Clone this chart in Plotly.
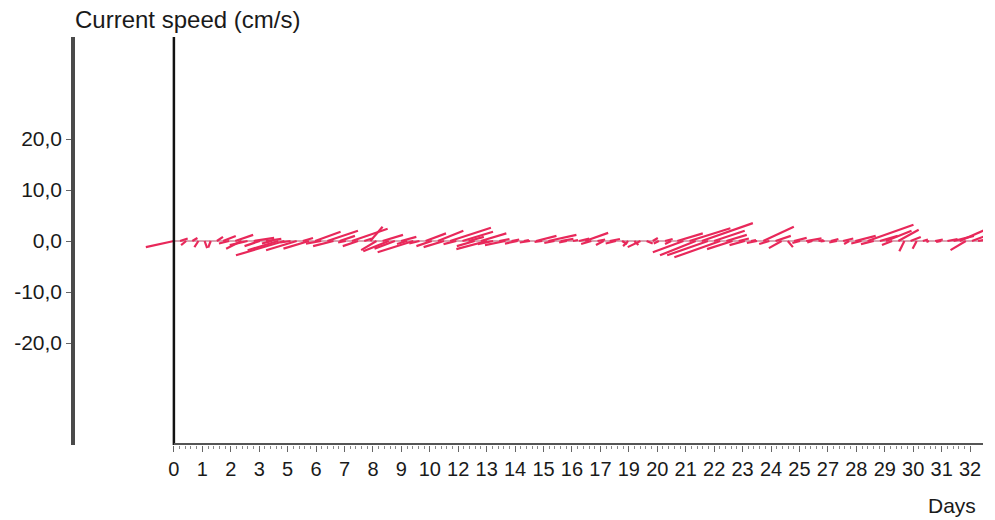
import plotly.graph_objects as go

# ---- data ----
tick_labels = ["0", "1", "2", "3", "5", "6", "7", "8", "9", "10", "12", "13", "14", "15",
               "16", "17", "19", "20", "21", "22", "23", "24", "25", "27", "28", "29",
               "30", "31", "32"]
y_ticks = [20, 10, 0, -10, -20]
y_tick_text = ["20,0", "10,0", "0,0", "-10,0", "-20,0"]

days = [0.0, 0.25, 0.5, 0.75, 1.0, 1.25, 1.5, 1.75, 2.0, 2.25, 2.5, 2.75,
        3.0, 3.25, 3.5, 3.75, 4.0, 4.25, 4.5, 4.75, 5.0, 5.25, 5.5, 5.75,
        6.0, 6.25, 6.5, 6.75, 7.0, 7.25, 7.5, 7.75, 8.0, 8.25, 8.5, 8.75,
        9.0, 9.25, 9.5, 9.75, 10.0, 10.25, 10.5, 10.75, 11.0, 11.25, 11.5, 11.75,
        12.0, 12.25, 12.5, 12.75, 13.0, 13.25, 13.5, 13.75, 14.0, 14.25, 14.5, 14.75,
        15.0, 15.25, 15.5, 15.75, 16.0, 16.25, 16.5, 16.75, 17.0, 17.25, 17.5, 17.75,
        18.0, 18.25, 18.5, 18.75, 19.0, 19.25, 19.5, 19.75, 20.0, 20.25, 20.5, 20.75,
        21.0, 21.25, 21.5, 21.75, 22.0, 22.25, 22.5, 22.75, 23.0, 23.25, 23.5, 23.75,
        24.0, 24.25, 24.5, 24.75, 25.0, 25.25, 25.5, 25.75, 26.0, 26.25, 26.5, 26.75,
        27.0, 27.25, 27.5, 27.75, 28.0, 28.25, 28.5, 28.75, 29.0, 29.25, 29.5, 29.75,
        30.0, 30.25, 30.5, 30.75, 31.0, 31.25, 31.5, 31.75, 32.0, 32.25, 32.5, 32.75]

# east component (cm/s)
u_speed = [-5.5, 1.5, -1.0, 1.0, -0.8, 0.5, -0.5, 1.2, 2.5, -2.0, 3.5, -3.0,
           -3.5, 4.0, -3.0, 3.0, -2.0, -6.0, -9.5, -2.0, -6.0, 2.0, -5.0, 5.0,
           -3.0, 6.0, -4.0, 3.0, -1.5, 7.0, -3.0, 1.5, 2.4, -3.0, 4.0, -5.0,
           -4.0, 3.0, -2.0, -7.0, -2.0, 4.0, -3.0, 5.0, -4.0, 8.0, -2.5, 6.0,
           3.0, -3.5, 5.0, -6.0, -3.0, 2.0, -4.0, 1.5, -2.5, 1.0, -2.0, 4.0,
           -1.5, 5.5, -2.0, 2.5, -1.5, 1.0, 2.0, 4.5, -2.0, 1.5, -1.5, 2.0,
           -2.0, 1.0, -1.0, 0.8, -2.5, 1.2, 1.0, -1.0, 1.5, -1.2, 5.0, -6.0,
           8.0, -7.0, 10.0, -8.0, 6.0, -9.0, 4.0, -5.0, 2.0, -3.0, 1.0, -2.0,
           6.0, -2.0, 3.0, -2.5, 1.0, 2.5, -1.5, 3.0, -1.0, 1.0, -0.8, 1.5,
           -1.5, 2.0, -1.0, 4.0, -2.0, 9.0, -2.5, 3.5, 5.0, -2.0, 4.0, -1.0,
           2.0, -0.8, 1.0, -0.5, 1.5, -1.0, 2.0, 4.0, 5.0, -3.0, 4.0, 3.0]

# north component (cm/s)
v_speed = [-1.2, 0.5, -0.8, 0.6, -1.2, -1.4, -1.3, 0.8, 1.0, -0.5, 1.2, -1.5,
           -0.8, 0.6, -1.0, 0.4, -0.5, -1.8, -2.8, -0.3, -1.8, 0.6, -1.5, 1.8,
           -0.5, 2.0, -1.0, 1.0, -0.3, 2.4, -1.0, 0.5, 2.8, -1.8, 1.2, -2.0,
           -1.5, 0.8, -0.6, -2.2, -0.5, 1.5, -1.0, 2.0, -1.2, 2.6, -0.6, 1.8,
           0.8, -1.0, 1.5, -1.6, -0.6, 0.4, -0.8, 0.3, -0.5, 0.2, -0.3, 1.0,
           -0.2, 1.2, -0.4, 0.4, -0.3, 0.2, 0.5, 1.6, -0.6, 0.3, -0.8, 0.4,
           -0.5, -0.6, -1.0, -0.8, -1.2, -0.5, 0.6, -0.5, 0.4, -0.6, 1.5, -2.2,
           2.5, -2.8, 3.5, -2.8, 2.0, -3.2, 1.2, -1.6, 0.5, -0.8, 0.2, -0.4,
           2.8, -0.6, 1.0, -1.4, -1.2, 0.6, -0.4, 0.5, -0.3, 0.2, -0.1, 0.4,
           -0.3, 0.5, -0.6, 1.0, -0.5, 3.2, -0.6, 1.0, 2.0, -0.8, 2.2, -2.0,
           0.8, -1.5, 0.3, -0.2, 0.3, -0.2, 0.4, 1.0, 2.2, -1.8, 1.5, 0.6]

# ---- geometry ----
tick_step = 1.158                  # days between labelled ticks
x_range = [-1.3, 32.95]
y_range = [-40, 40]
W, H = 995, 520
margin = dict(l=73, r=12, t=37, b=75, autoexpand=False)
x_dom = [0.0758, 1.0]

plot_w = (W - margin["l"] - margin["r"]) * (x_dom[1] - x_dom[0])
plot_h = H - margin["t"] - margin["b"]
px_per_day = plot_w / (x_range[1] - x_range[0])
px_per_unit = plot_h / (y_range[1] - y_range[0])
k = px_per_unit / px_per_day      # cm/s -> days so sticks keep true direction

sx, sy = [], []
for t, u, v in zip(days, u_speed, v_speed):
    sx += [t, t + u * k, None]
    sy += [0, v, None]

tick_vals = [i * tick_step for i in range(len(tick_labels))]
minor_vals = [i * tick_step / 5 for i in range(len(tick_labels) * 5 - 4) if i % 5]

fig = go.Figure()
fig.add_trace(go.Scatter(x=[0, days[-1] + 0.6], y=[0, 0], mode="lines",
                         line=dict(color="#b0506a", width=1), hoverinfo="skip"))
fig.add_trace(go.Scatter(x=sx, y=sy, mode="lines",
                         line=dict(color="#e8285a", width=2.2), hoverinfo="skip"))

font_main = "Liberation Sans, Arial, sans-serif"
fig.update_layout(
    width=W, height=H, margin=margin, showlegend=False,
    paper_bgcolor="white", plot_bgcolor="white",
    font=dict(family=font_main, size=19, color="#1a1a1a"),
    xaxis=dict(domain=x_dom, range=x_range, showgrid=False, zeroline=False, automargin=False,
               showline=False, tickmode="array", tickvals=tick_vals, ticktext=tick_labels,
               ticks="outside", ticklen=6, tickwidth=1.2, tickcolor="#666",
               tickfont=dict(size=20),
               minor=dict(tickmode="array", tickvals=minor_vals, ticks="outside",
                          ticklen=3, tickwidth=1, tickcolor="#888")),
    yaxis=dict(range=y_range, anchor="free", position=0, showgrid=False, zeroline=False,
               automargin=False,
               showline=True, linecolor="#4a4a4a", linewidth=3.5,
               tickmode="array", tickvals=y_ticks, ticktext=y_tick_text,
               ticks="outside", ticklen=5, tickwidth=1, tickcolor="#666",
               tickfont=dict(size=21)),
)

# plot frame: black vertical line at day 0 and the bottom axis line
fig.add_shape(type="line", xref="x", yref="y", x0=0, x1=0, y0=y_range[0], y1=y_range[1],
              line=dict(color="#111", width=2.5))
fig.add_shape(type="line", xref="x", yref="y", x0=0, x1=x_range[1], y0=y_range[0], y1=y_range[0],
              line=dict(color="#555", width=4))

fig.add_annotation(text="Current speed (cm/s)", xref="paper", yref="paper",
                   x=0, y=1, xanchor="left", yanchor="bottom", yshift=2,
                   showarrow=False, font=dict(size=24, color="#1a1a1a"))
fig.add_annotation(text="Days", xref="paper", yref="paper",
                   x=0.995, y=0, xanchor="right", yanchor="top", yshift=-47,
                   showarrow=False, font=dict(size=21, color="#1a1a1a"))

fig.write_html("out.html", config={"displayModeBar": False},
               post_script="document.body.style.margin='0';document.body.style.overflow='hidden';")
